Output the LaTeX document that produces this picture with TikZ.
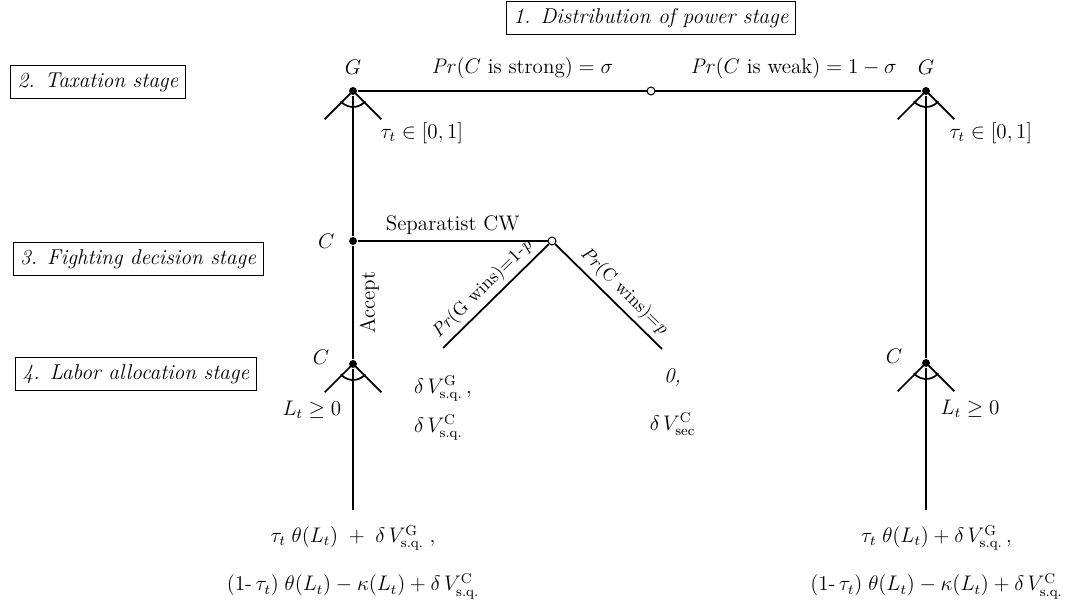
\documentclass[tikz,border=0pt]{standalone}
\usepackage{amsmath}
\usepackage{tikz}
\usetikzlibrary{positioning}

\newcommand{\fan}[1]{%
    \draw ([shift={(-135:0.8cm)}]#1.center) -- (#1.center) -- ++(-45:0.8cm);
    \draw ([shift={(-140:0.32cm)}]#1.center) arc[start angle=-140, end angle=-40, radius=0.32cm];
}

\begin{document}
\begin{tikzpicture}[
    x=0.02cm, y=0.02cm,
    every node/.style={font=\fontsize{12}{14.4}\selectfont},
    line width=1pt,
    decision/.style={circle, fill=black, inner sep=0pt, minimum size=4.5pt},
    chance/.style={circle, draw, fill=white, inner sep=0pt, minimum size=4.5pt, line width=0.6pt},
    stagebox/.style={draw, line width=0.5pt, inner sep=4pt, font=\fontsize{12.2}{15}\selectfont\itshape},
    odds/.style={sloped, above=1.5pt, inner sep=1pt, font=\fontsize{10.5}{12}\selectfont}
]
\useasboundingbox (0,0) rectangle (1068,607);

% Stage boxes
\node[stagebox] (stage1) at (651,589) {1. Distribution of power stage};
\node[stagebox] (stage2) at (98,525) {2. Taxation stage};
\node[stagebox] (stage3) at (138,348) {3. Fighting decision stage};
\node[stagebox] (stage4) at (136,233) {4. Labor allocation stage};

% Tree nodes
\node[decision] (gL) at (353,516) {};
\node[chance] (nat) at (651,516) {};
\node[decision] (gR) at (926,516) {};
\node[decision] (cF) at (353,366) {};
\node[chance] (nat2) at (552,366) {};
\node[decision] (cL) at (353,243) {};
\node[decision] (cR) at (926,244) {};
\coordinate (wG) at (443,259);
\coordinate (wC) at (662,258);
\coordinate (eL) at (353,97);
\coordinate (eR) at (926,97);

% Player labels
\node[above=3pt of gL] {$G$};
\node[above=3pt of gR] {$G$};
\node[left=4pt of cF] {$C$};
\node[left=7pt of cL, yshift=4pt] {$C$};
\node[left=7pt of cR, yshift=4pt] {$C$};

% Branches
\draw (gL) -- node[above=3pt, pos=0.57] {$\mathit{Pr}(C\text{ is strong}) = \sigma$} (nat);
\draw (nat) -- node[above=3pt, pos=0.52] {$\mathit{Pr}(C\text{ is weak}) = 1-\sigma$} (gR);
\draw (gL) -- (cF);
\draw (cF) -- node[above, pos=0.5] {Separatist CW} (nat2);
\draw (cL) -- node[sloped, below] {Accept} (cF);
\draw (wG) -- node[odds, pos=0.47] {\textit{Pr}(G wins)=1-\textit{p}} (nat2);
\draw (nat2) -- node[odds, pos=0.55] {\textit{Pr}(C wins)=\textit{p}} (wC);
\draw (cL) -- (eL);
\draw (gR) -- (cR);
\draw (cR) -- (eR);

% Continuous choices
\fan{gL}
\fan{gR}
\fan{cL}
\fan{cR}
\node[anchor=west] (tauL) at (374,474) {$\tau_t \in [0,1]$};
\node[anchor=west] (tauR) at (943,474) {$\tau_t \in [0,1]$};
\node[anchor=east] (labL) at (348,197) {$L_t \geq 0$};
\node[anchor=west] (labR) at (934,198) {$L_t \geq 0$};

% Payoffs
\node[below=12pt of wG, align=left] (payG) {$\delta\,V^{\mathrm{G}}_{\mathrm{s.q.}}$\,,\\[8pt] $\delta\,V^{\mathrm{C}}_{\mathrm{s.q.}}$};
\node[below=7pt of wC, xshift=6pt, align=center] (payC) {\textit{0,}\\[13pt] $\delta\,V^{\mathrm{C}}_{\mathrm{sec}}$};
\node[below=5pt of eL, align=center] (payL) {$\tau_t\;\theta(L_t)\;+\;\delta\,V^{\mathrm{G}}_{\mathrm{s.q.}}$\;,\\[13pt] $(1\text{-}\,\tau_t)\;\theta(L_t) - \kappa(L_t) + \delta\,V^{\mathrm{C}}_{\mathrm{s.q.}}$};
\node[below=5pt of eR, xshift=6pt, align=center] (payR) {$\tau_t\;\theta(L_t) + \delta\,V^{\mathrm{G}}_{\mathrm{s.q.}}$\,,\\[13pt] $(1\text{-}\,\tau_t)\;\theta(L_t) - \kappa(L_t) + \delta\,V^{\mathrm{C}}_{\mathrm{s.q.}}$};
\end{tikzpicture}
\end{document}
